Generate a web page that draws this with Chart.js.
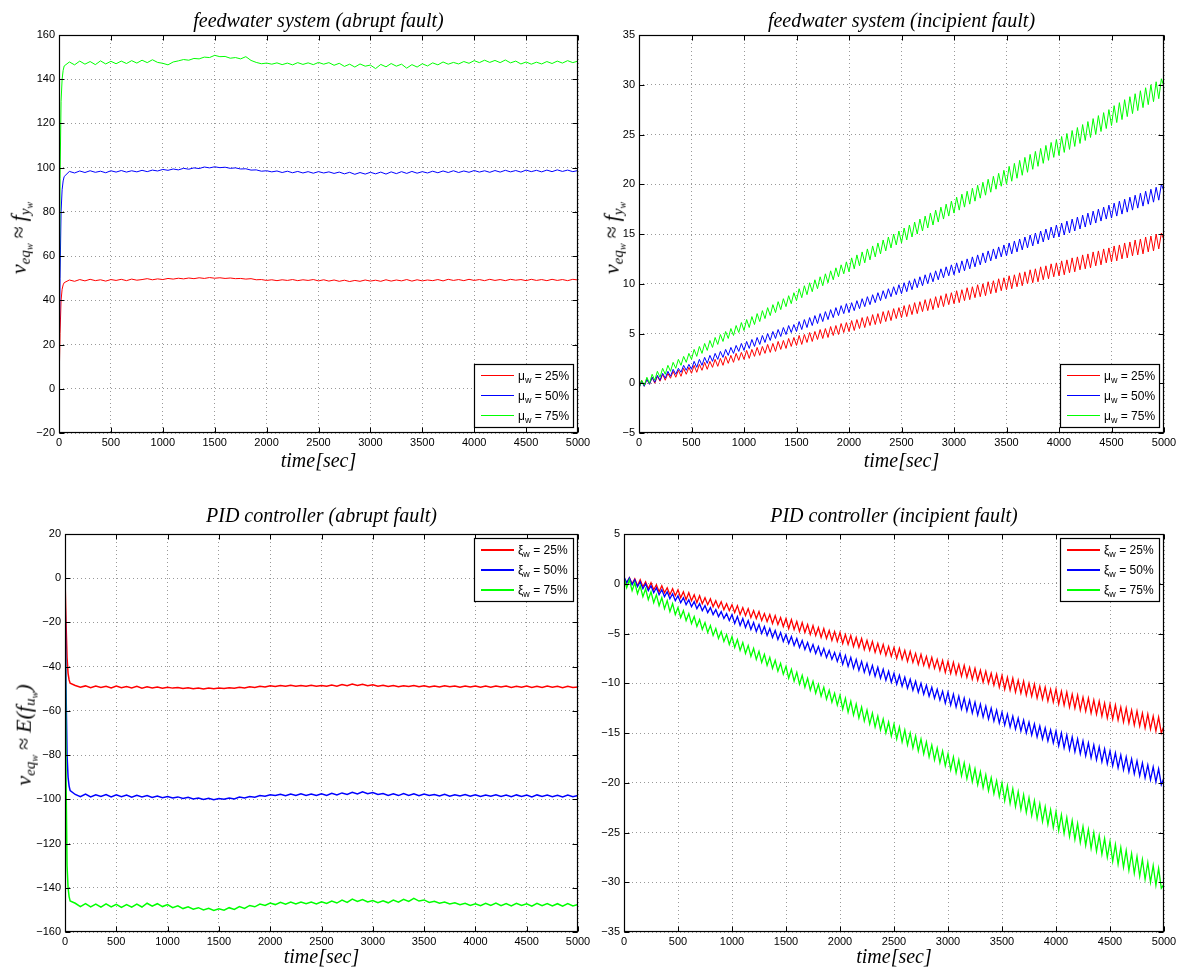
<!DOCTYPE html>
<html><head><meta charset="utf-8">
<script src="https://cdn.jsdelivr.net/npm/chart.js@4.4.1/dist/chart.umd.min.js"></script>
<style>
html,body{margin:0;padding:0;background:#fff;}
#wrap{position:relative;width:1184px;height:972px;overflow:hidden;background:#fff;}
canvas{position:absolute;}
.ylab{position:absolute;white-space:nowrap;font:italic 22px 'Liberation Serif',serif;color:#000;transform:translate(-50%,-50%) rotate(-90deg);line-height:1;}
.ylab sub{font-size:68%;vertical-align:-0.3em;line-height:0;}
.ylab .op{font-style:normal;margin:0 5px;}
</style></head>
<body><div id="wrap">
<canvas id="c1" width="592" height="486" style="left:0;top:0"></canvas>
<canvas id="c2" width="592" height="486" style="left:592px;top:0"></canvas>
<canvas id="c3" width="592" height="486" style="left:0;top:486px"></canvas>
<canvas id="c4" width="592" height="486" style="left:592px;top:486px"></canvas>
<div class="ylab" style="left:19px;top:238px">ν<sub>eq<sub>w</sub></sub><span class="op">≈</span>f<sub>y<sub>w</sub></sub></div>
<div class="ylab" style="left:612px;top:238px">ν<sub>eq<sub>w</sub></sub><span class="op">≈</span>f<sub>y<sub>w</sub></sub></div>
<div class="ylab" style="left:24px;top:735px">ν<sub>eq<sub>w</sub></sub><span class="op">≈</span>E(f<sub>u<sub>w</sub></sub>)</div>
</div>
<script>
// ---------------- DATA ----------------
const TIME_ABRUPT = [0,10,20,30,40,50,100,150,200,250,300,350,400,450,500,550,600,650,700,750,800,850,900,950,1000,1050,1100,1150,1200,1250,1300,1350,1400,1450,1500,1550,1600,1650,1700,1750,1800,1850,1900,1950,2000,2050,2100,2150,2200,2250,2300,2350,2400,2450,2500,2550,2600,2650,2700,2750,2800,2850,2900,2950,3000,3050,3100,3150,3200,3250,3300,3350,3400,3450,3500,3550,3600,3650,3700,3750,3800,3850,3900,3950,4000,4050,4100,4150,4200,4250,4300,4350,4400,4450,4500,4550,4600,4650,4700,4750,4800,4850,4900,4950,5000];
const TIME_INCIPIENT = [0,25,50,75,100,125,150,175,200,225,250,275,300,325,350,375,400,425,450,475,
500,525,550,575,600,625,650,675,700,725,750,775,800,825,850,875,900,925,950,975,
1000,1025,1050,1075,1100,1125,1150,1175,1200,1225,1250,1275,1300,1325,1350,1375,1400,1425,1450,1475,
1500,1525,1550,1575,1600,1625,1650,1675,1700,1725,1750,1775,1800,1825,1850,1875,1900,1925,1950,1975,
2000,2025,2050,2075,2100,2125,2150,2175,2200,2225,2250,2275,2300,2325,2350,2375,2400,2425,2450,2475,
2500,2525,2550,2575,2600,2625,2650,2675,2700,2725,2750,2775,2800,2825,2850,2875,2900,2925,2950,2975,
3000,3025,3050,3075,3100,3125,3150,3175,3200,3225,3250,3275,3300,3325,3350,3375,3400,3425,3450,3475,
3500,3525,3550,3575,3600,3625,3650,3675,3700,3725,3750,3775,3800,3825,3850,3875,3900,3925,3950,3975,
4000,4025,4050,4075,4100,4125,4150,4175,4200,4225,4250,4275,4300,4325,4350,4375,4400,4425,4450,4475,
4500,4525,4550,4575,4600,4625,4650,4675,4700,4725,4750,4775,4800,4825,4850,4875,4900,4925,4950,4975,
5000];

const LEGEND_PCT = ['25%','50%','75%'];
const TITLES = ['feedwater system (abrupt fault)','feedwater system (incipient fault)','PID controller (abrupt fault)','PID controller (incipient fault)'];
const X_TITLE = 'time[sec]';

// feedwater system, abrupt fault
const FW_ABRUPT_25 = [0,25,40,45,47,48,
49.2,48.6,49.4,48.8,49.5,48.9,49.3,48.7,49.4,49.0,
49.5,48.9,49.6,49.1,49.4,49.8,49.3,49.7,49.4,49.9,
49.6,50.0,49.7,50.1,49.8,50.2,49.9,50.3,50.0,50.2,
49.9,50.1,49.8,49.9,49.6,49.8,49.3,49.4,49.0,49.3,
48.9,49.3,49.0,49.4,48.9,49.3,49.0,49.4,48.8,49.3,
48.7,49.2,48.6,49.1,48.5,49.0,48.6,49.2,48.7,49.1,
48.6,49.3,48.7,49.2,48.8,49.4,48.7,49.3,48.8,49.2,
48.9,49.4,48.8,49.5,49.0,49.4,48.9,49.5,49.0,49.4,
48.9,49.5,49.0,49.4,48.9,49.5,49.1,49.4,48.9,49.5,
49.0,49.4,48.9,49.5,49.0,49.4,48.9,49.5,
49.2];
const FW_ABRUPT_50 = [0,50,80,90,94,96,
98.3,97.6,98.5,97.8,98.6,97.9,98.4,97.7,98.6,98.0,
98.7,98.0,98.6,98.1,98.8,98.2,98.9,98.5,99.2,98.8,
99.4,99.0,99.7,99.3,99.9,99.6,100.3,99.9,100.4,100.0,
100.2,99.7,99.9,99.4,99.5,98.9,99.0,98.4,98.6,98.1,
98.5,97.8,98.4,97.7,98.3,97.6,98.2,97.5,98.2,97.6,
98.1,97.4,98.0,97.2,97.9,97.0,97.8,97.1,97.9,97.2,
98.0,97.1,98.1,97.3,98.2,97.4,98.3,97.5,98.2,97.6,
98.4,97.7,98.5,97.8,98.6,97.8,98.5,97.9,98.7,98.0,
98.6,97.9,98.7,98.0,98.8,98.1,98.7,98.0,98.9,98.2,
98.8,98.1,98.9,98.2,99.0,98.3,98.9,98.2,
98.7];
const FW_ABRUPT_75 = [0,95,130,140,144,146,
147.8,146.5,148.2,146.8,148.0,146.6,148.3,146.9,148.1,147.0,
148.2,147.1,148.4,147.3,148.6,147.5,148.8,147.6,147.2,146.5,
147.8,148.3,148.9,148.6,149.4,149.2,150.0,149.8,150.8,150.2,
150.3,149.5,149.8,149.2,150.2,148.5,147.6,147.0,147.3,146.8,
147.4,146.6,147.3,146.5,147.5,146.7,147.4,146.6,147.6,146.8,
147.5,146.3,147.2,145.8,146.8,145.5,146.9,145.9,146.4,144.8,
146.7,145.6,147.1,145.9,146.8,145.0,146.6,145.5,147.0,146.0,
147.4,146.5,147.8,146.8,147.6,146.9,148.0,147.2,148.4,147.5,
148.6,147.6,148.5,147.5,148.7,147.4,148.2,146.9,147.8,146.8,
147.7,146.9,148.0,147.1,148.2,147.3,148.4,147.5,
148.2];

// feedwater system, incipient fault (every 25 s)
const FW_INCIP_25 = [
-0.4,0.3,-0.3,0.4,-0.1,0.6,0.0,0.7,0.2,0.9,0.3,1.0,0.5,1.2,0.6,1.3,0.7,1.5,0.9,1.6,
1.0,1.8,1.1,1.9,1.3,2.1,1.4,2.2,1.6,2.4,1.7,2.5,1.8,2.7,2.0,2.8,2.1,3.0,2.3,3.1,
2.4,3.3,2.5,3.4,2.7,3.6,2.8,3.7,3.0,3.9,3.1,4.0,3.2,4.2,3.4,4.3,3.5,4.5,3.7,4.6,
3.8,4.8,3.9,4.9,4.1,5.1,4.2,5.2,4.4,5.4,4.5,5.5,4.6,5.7,4.8,5.8,4.9,6.0,5.1,6.1,
5.2,6.3,5.3,6.4,5.5,6.6,5.6,6.7,5.8,6.9,5.9,7.0,6.0,7.2,6.2,7.3,6.3,7.5,6.5,7.6,
6.6,7.8,6.7,7.9,6.9,8.1,7.0,8.2,7.2,8.4,7.3,8.5,7.4,8.7,7.6,8.8,7.7,9.0,7.9,9.1,
8.0,9.3,8.1,9.4,8.3,9.6,8.4,9.7,8.6,9.9,8.7,10.0,8.8,10.2,9.0,10.3,9.1,10.5,9.3,10.6,
9.4,10.8,9.5,10.9,9.7,11.1,9.8,11.2,10.0,11.4,10.1,11.5,10.2,11.7,10.4,11.8,10.5,12.0,10.7,12.1,
10.8,12.3,10.9,12.4,11.1,12.6,11.2,12.7,11.4,12.9,11.5,13.0,11.6,13.2,11.8,13.3,11.9,13.5,12.1,13.6,
12.2,13.8,12.3,13.9,12.5,14.1,12.6,14.2,12.8,14.4,12.9,14.5,13.0,14.7,13.2,14.8,13.3,15.0,13.5,15.1,
14.4];
const FW_INCIP_50 = [
-0.5,0.2,-0.3,0.4,-0.1,0.6,0.1,0.8,0.3,1.0,0.5,1.2,0.7,1.4,0.9,1.5,1.1,1.8,1.3,1.9,
1.4,2.2,1.6,2.4,1.8,2.6,2.0,2.8,2.2,3.0,2.4,3.2,2.6,3.4,2.8,3.6,3.0,3.8,3.2,4.0,
3.3,4.2,3.5,4.4,3.7,4.6,3.9,4.8,4.1,5.0,4.3,5.2,4.5,5.4,4.7,5.6,4.9,5.8,5.1,5.9,
5.2,6.2,5.4,6.4,5.6,6.6,5.8,6.8,6.0,7.0,6.2,7.2,6.4,7.4,6.6,7.6,6.8,7.8,7.0,8.0,
7.1,8.1,7.3,8.3,7.5,8.5,7.7,8.7,7.9,8.9,8.1,9.1,8.3,9.3,8.5,9.5,8.7,9.7,8.9,9.9,
9.0,10.1,9.2,10.3,9.4,10.5,9.6,10.7,9.8,10.9,10.0,11.1,10.2,11.3,10.4,11.5,10.6,11.7,10.8,11.9,
10.9,12.1,11.1,12.3,11.3,12.5,11.5,12.7,11.7,12.9,11.9,13.1,12.1,13.3,12.3,13.5,12.5,13.7,12.7,13.9,
12.8,14.1,13.0,14.3,13.2,14.5,13.4,14.7,13.6,14.9,13.8,15.1,14.0,15.3,14.2,15.5,14.4,15.7,14.6,15.9,
14.7,16.1,14.9,16.3,15.1,16.5,15.3,16.7,15.5,16.9,15.7,17.1,15.9,17.3,16.1,17.5,16.3,17.7,16.5,17.9,
16.6,18.1,16.8,18.3,17.0,18.5,17.2,18.7,17.4,18.9,17.6,19.1,17.8,19.3,18.0,19.5,18.2,19.7,18.4,20.0,
19.3];
const FW_INCIP_75 = [
-0.5,0.3,-0.2,0.6,0.0,0.9,0.3,1.2,0.6,1.5,0.9,1.8,1.2,2.1,1.5,2.4,1.8,2.7,2.1,3.0,
2.4,3.4,2.7,3.7,3.0,4.0,3.3,4.3,3.6,4.6,3.9,4.9,4.2,5.2,4.5,5.5,4.8,5.8,5.1,6.1,
5.3,6.4,5.6,6.7,5.9,7.0,6.2,7.3,6.5,7.6,6.8,7.9,7.1,8.2,7.4,8.5,7.7,8.8,8.0,9.1,
8.3,9.5,8.6,9.8,8.9,10.1,9.2,10.4,9.5,10.7,9.8,11.0,10.1,11.3,10.4,11.6,10.7,11.9,11.0,12.2,
11.2,12.6,11.5,12.9,11.8,13.2,12.1,13.5,12.4,13.8,12.7,14.1,13.0,14.4,13.3,14.7,13.6,15.0,13.9,15.3,
14.1,15.6,14.4,15.9,14.7,16.2,15.0,16.5,15.3,16.8,15.6,17.1,15.9,17.4,16.2,17.7,16.5,18.0,16.8,18.3,
17.1,18.7,17.4,19.0,17.7,19.3,18.0,19.6,18.3,19.9,18.6,20.2,18.9,20.5,19.2,20.8,19.5,21.1,19.8,21.4,
20.0,21.8,20.3,22.1,20.6,22.4,20.9,22.7,21.2,23.0,21.5,23.3,21.8,23.6,22.1,23.9,22.4,24.2,22.7,24.5,
22.9,24.8,23.2,25.1,23.5,25.4,23.8,25.7,24.1,26.0,24.4,26.3,24.7,26.6,25.0,26.9,25.3,27.2,25.6,27.5,
25.9,27.9,26.2,28.2,26.5,28.5,26.8,28.8,27.1,29.1,27.4,29.4,27.7,29.7,28.0,30.0,28.3,30.3,28.6,30.6,
29.8];

// PID controller, abrupt fault
const PID_ABRUPT_25 = [0,-20,-36,-43,-46,-47.5,
-48.5,-49.3,-48.7,-49.5,-48.8,-49.4,-48.9,-49.6,-48.8,-49.5,
-49.0,-49.6,-48.9,-49.7,-49.1,-49.6,-49.2,-49.8,-49.3,-49.7,
-49.4,-49.9,-49.5,-50.0,-49.6,-50.1,-49.6,-50.0,-49.7,-49.9,
-49.5,-49.8,-49.3,-49.6,-49.1,-49.4,-48.9,-49.2,-48.6,-49.0,
-48.5,-48.9,-48.4,-48.8,-48.5,-48.9,-48.4,-48.8,-48.5,-48.9,
-48.3,-48.8,-48.1,-48.6,-47.9,-48.5,-48.0,-48.6,-48.2,-48.8,
-48.4,-49.0,-48.5,-49.1,-48.6,-49.0,-48.5,-49.1,-48.6,-49.2,
-48.7,-49.2,-48.6,-49.1,-48.7,-49.3,-48.8,-49.2,-48.7,-49.3,
-48.8,-49.3,-48.7,-49.2,-48.8,-49.4,-48.9,-49.3,-48.8,-49.4,
-48.9,-49.4,-48.8,-49.3,-48.9,-49.5,-48.9,-49.4,
-49.2];
const PID_ABRUPT_50 = [0,-50,-80,-90,-94,-96,
-97.8,-98.8,-97.6,-98.9,-97.9,-98.7,-97.8,-98.9,-98.0,-98.8,
-98.1,-99.0,-98.2,-98.9,-98.3,-99.2,-98.5,-99.3,-98.7,-99.4,
-98.9,-99.6,-99.1,-99.8,-99.4,-100.1,-99.5,-100.2,-99.6,-100.0,
-99.4,-99.8,-99.0,-99.4,-98.7,-99.0,-98.3,-98.6,-97.9,-98.3,
-97.7,-98.4,-97.6,-98.3,-97.5,-98.2,-97.6,-98.3,-97.5,-98.2,
-97.3,-98.0,-97.1,-97.8,-96.8,-97.6,-96.6,-97.5,-96.9,-97.8,
-97.4,-98.2,-97.5,-98.3,-97.4,-98.2,-97.5,-98.4,-97.6,-98.3,
-97.8,-98.5,-97.7,-98.6,-97.9,-98.5,-97.8,-98.6,-97.9,-98.7,
-98.0,-98.6,-97.9,-98.7,-98.1,-98.8,-98.0,-98.7,-98.1,-98.9,
-98.0,-98.7,-98.1,-98.8,-98.2,-98.9,-98.1,-98.8,
-98.3];
const PID_ABRUPT_75 = [0,-90,-130,-140,-144,-146,
-147.0,-148.5,-147.2,-148.6,-147.4,-148.8,-147.3,-148.7,-147.5,-148.9,
-147.6,-148.8,-147.4,-148.7,-147.0,-148.3,-147.2,-148.5,-147.6,-149.0,
-148.2,-149.4,-148.6,-149.7,-149.0,-150.0,-149.3,-150.3,-149.5,-150.1,
-149.0,-149.8,-148.5,-149.3,-148.0,-148.6,-147.4,-148.0,-146.9,-147.6,
-146.6,-147.4,-146.5,-147.3,-146.4,-147.2,-146.5,-147.3,-146.3,-147.1,
-146.0,-146.9,-145.6,-146.6,-145.1,-146.2,-145.3,-146.4,-145.8,-146.7,
-145.9,-146.8,-145.6,-146.5,-145.2,-146.2,-144.8,-146.0,-145.5,-146.6,
-146.1,-147.0,-146.4,-147.3,-146.8,-147.7,-147.0,-148.0,-147.2,-148.1,
-147.0,-148.0,-146.9,-148.1,-147.1,-148.2,-147.0,-148.0,-147.2,-148.3,
-147.0,-148.1,-147.1,-148.2,-147.2,-148.3,-147.1,-148.2,
-147.6];

// PID controller, incipient fault (every 25 s)
const PID_INCIP_25 = [
0.6,0.1,0.6,0.0,0.5,-0.2,0.4,-0.3,0.2,-0.5,0.1,-0.6,-0.1,-0.8,-0.2,-0.9,-0.4,-1.1,-0.5,-1.2,
-0.6,-1.4,-0.8,-1.6,-0.9,-1.7,-1.1,-1.9,-1.2,-2.0,-1.4,-2.1,-1.5,-2.3,-1.7,-2.4,-1.8,-2.6,-2.0,-2.7,
-2.1,-2.9,-2.2,-3.1,-2.4,-3.2,-2.5,-3.4,-2.7,-3.5,-2.8,-3.7,-3.0,-3.8,-3.1,-4.0,-3.2,-4.1,-3.4,-4.3,
-3.5,-4.5,-3.6,-4.6,-3.8,-4.8,-3.9,-4.9,-4.1,-5.1,-4.2,-5.2,-4.4,-5.4,-4.5,-5.5,-4.7,-5.7,-4.8,-5.8,
-4.9,-6.0,-5.1,-6.1,-5.2,-6.3,-5.4,-6.4,-5.5,-6.6,-5.7,-6.7,-5.8,-6.9,-6.0,-7.0,-6.1,-7.2,-6.3,-7.3,
-6.4,-7.5,-6.5,-7.6,-6.7,-7.8,-6.8,-7.9,-7.0,-8.1,-7.1,-8.2,-7.3,-8.4,-7.4,-8.5,-7.6,-8.7,-7.7,-8.9,
-7.8,-9.0,-7.9,-9.1,-8.1,-9.3,-8.2,-9.4,-8.4,-9.6,-8.5,-9.7,-8.7,-9.9,-8.8,-10.0,-9.0,-10.2,-9.1,-10.4,
-9.2,-10.6,-9.4,-10.7,-9.5,-10.9,-9.7,-11.0,-9.8,-11.2,-10.0,-11.3,-10.1,-11.5,-10.3,-11.6,-10.4,-11.8,-10.6,-11.9,
-10.6,-12.1,-10.8,-12.2,-10.9,-12.4,-11.1,-12.5,-11.2,-12.7,-11.4,-12.8,-11.5,-13.0,-11.7,-13.1,-11.8,-13.3,-12.0,-13.5,
-12.1,-13.6,-12.2,-13.7,-12.4,-13.9,-12.5,-14.0,-12.7,-14.2,-12.8,-14.3,-13.0,-14.5,-13.1,-14.6,-13.3,-14.8,-13.4,-15.0,
-14.3];
const PID_INCIP_50 = [
0.7,0.1,0.6,-0.1,0.4,-0.3,0.2,-0.5,0.0,-0.7,-0.2,-0.9,-0.4,-1.1,-0.6,-1.3,-0.8,-1.5,-1.0,-1.7,
-1.2,-1.9,-1.4,-2.1,-1.6,-2.3,-1.8,-2.5,-2.0,-2.7,-2.2,-2.9,-2.4,-3.1,-2.6,-3.3,-2.8,-3.5,-3.0,-3.7,
-3.1,-4.0,-3.3,-4.2,-3.5,-4.4,-3.7,-4.6,-3.9,-4.8,-4.1,-5.0,-4.3,-5.2,-4.5,-5.4,-4.7,-5.6,-4.9,-5.8,
-5.1,-6.0,-5.3,-6.2,-5.5,-6.4,-5.7,-6.6,-5.9,-6.8,-6.1,-7.0,-6.3,-7.2,-6.5,-7.4,-6.7,-7.6,-6.9,-7.8,
-7.0,-8.1,-7.2,-8.3,-7.4,-8.5,-7.6,-8.7,-7.8,-8.9,-8.0,-9.1,-8.2,-9.3,-8.4,-9.5,-8.6,-9.7,-8.8,-9.9,
-9.0,-10.1,-9.2,-10.3,-9.4,-10.5,-9.6,-10.7,-9.8,-10.9,-10.0,-11.1,-10.2,-11.3,-10.4,-11.5,-10.6,-11.7,-10.8,-12.0,
-10.9,-12.2,-11.1,-12.4,-11.3,-12.6,-11.5,-12.8,-11.7,-13.0,-11.9,-13.2,-12.1,-13.4,-12.3,-13.6,-12.5,-13.8,-12.7,-14.0,
-12.9,-14.2,-13.1,-14.4,-13.3,-14.6,-13.5,-14.8,-13.7,-15.0,-13.9,-15.2,-14.1,-15.4,-14.3,-15.6,-14.5,-15.8,-14.7,-16.0,
-14.8,-16.3,-15.0,-16.5,-15.2,-16.7,-15.4,-16.9,-15.6,-17.1,-15.8,-17.3,-16.0,-17.5,-16.2,-17.7,-16.4,-17.9,-16.6,-18.1,
-16.8,-18.3,-17.0,-18.5,-17.2,-18.7,-17.4,-18.9,-17.6,-19.1,-17.8,-19.3,-18.0,-19.5,-18.2,-19.7,-18.4,-19.9,-18.6,-20.2,
-19.5];
const PID_INCIP_75 = [
0.6,-0.4,0.4,-0.7,0.1,-1.0,-0.2,-1.3,-0.5,-1.6,-0.8,-1.9,-1.1,-2.2,-1.4,-2.5,-1.7,-2.8,-2.0,-3.1,
-2.4,-3.4,-2.7,-3.7,-3.0,-4.0,-3.3,-4.3,-3.6,-4.6,-3.9,-4.9,-4.2,-5.2,-4.5,-5.5,-4.8,-5.8,-5.1,-6.1,
-5.3,-6.4,-5.6,-6.7,-5.9,-7.0,-6.2,-7.3,-6.5,-7.6,-6.8,-7.9,-7.1,-8.2,-7.4,-8.5,-7.7,-8.8,-8.0,-9.1,
-8.3,-9.5,-8.6,-9.8,-8.9,-10.1,-9.2,-10.4,-9.5,-10.7,-9.8,-11.0,-10.1,-11.3,-10.4,-11.6,-10.7,-11.9,-11.0,-12.2,
-11.2,-12.6,-11.5,-12.9,-11.8,-13.2,-12.1,-13.5,-12.4,-13.8,-12.7,-14.1,-13.0,-14.4,-13.3,-14.7,-13.6,-15.0,-13.9,-15.3,
-14.1,-15.6,-14.4,-15.9,-14.7,-16.2,-15.0,-16.5,-15.3,-16.8,-15.6,-17.1,-15.9,-17.4,-16.2,-17.7,-16.5,-18.0,-16.8,-18.3,
-17.1,-18.7,-17.4,-19.0,-17.7,-19.3,-18.0,-19.6,-18.3,-19.9,-18.6,-20.2,-18.9,-20.5,-19.2,-20.8,-19.5,-21.1,-19.8,-21.4,
-20.0,-21.8,-20.3,-22.1,-20.6,-22.4,-20.9,-22.7,-21.2,-23.0,-21.5,-23.3,-21.8,-23.6,-22.1,-23.9,-22.4,-24.2,-22.7,-24.5,
-22.9,-24.8,-23.2,-25.1,-23.5,-25.4,-23.8,-25.7,-24.1,-26.0,-24.4,-26.3,-24.7,-26.6,-25.0,-26.9,-25.3,-27.2,-25.6,-27.5,
-25.9,-27.9,-26.2,-28.2,-26.5,-28.5,-26.8,-28.8,-27.1,-29.1,-27.4,-29.4,-27.7,-29.7,-28.0,-30.0,-28.3,-30.3,-28.6,-30.6,
-30.2];

// ---------------- STYLE / LAYOUT ----------------
const COLORS = ['#ff0000','#0000ff','#00ff00'];
const W = 592, H = 486;
const PANELS = [
  {id:'c1', title:TITLES[0], time:TIME_ABRUPT, series:[FW_ABRUPT_25,FW_ABRUPT_50,FW_ABRUPT_75], sym:'μ', y:[-20,160,20], plot:{left:59,top:35,right:578,bottom:433}, legend:'br', titleTop:10, xTitleBottom:12, lw:1},
  {id:'c2', title:TITLES[1], time:TIME_INCIPIENT, series:[FW_INCIP_25,FW_INCIP_50,FW_INCIP_75], sym:'μ', y:[-5,35,5], plot:{left:47,top:35,right:572,bottom:433}, legend:'br', titleTop:10, xTitleBottom:12, lw:1},
  {id:'c3', title:TITLES[2], time:TIME_ABRUPT, series:[PID_ABRUPT_25,PID_ABRUPT_50,PID_ABRUPT_75], sym:'ξ', y:[-160,20,20], plot:{left:65,top:48,right:578,bottom:446}, legend:'tr', titleTop:19, xTitleBottom:2, lw:1.5},
  {id:'c4', title:TITLES[3], time:TIME_INCIPIENT, series:[PID_INCIP_25,PID_INCIP_50,PID_INCIP_75], sym:'ξ', y:[-35,5,5], plot:{left:32,top:48,right:572,bottom:446}, legend:'tr', titleTop:19, xTitleBottom:2, lw:1.3}
];

const TICK_FONT = {family:"'Liberation Sans', Arial, sans-serif", size:11};
const SERIF_IT = {family:"'Liberation Serif', 'Times New Roman', serif", style:'italic', weight:'normal', size:20, lineHeight:1.2};

const frameLegendPlugin = {
  id:'frameLegend',
  afterDatasetsDraw(chart){
    const o = chart.options.plugins.frameLegend || {};
    const {ctx, chartArea:a, scales} = chart;
    const xs = scales.x, ys = scales.y;
    const L = Math.round(a.left)+0.5, R = Math.round(a.right)-0.5, T = Math.round(a.top)+0.5, B = Math.round(a.bottom)-0.5;
    ctx.save();
    ctx.strokeStyle = '#000';
    ctx.lineWidth = 1;
    ctx.setLineDash([]);
    ctx.beginPath();
    const TL = 5;
    xs.ticks.forEach(t=>{
      const px = Math.round(xs.getPixelForValue(t.value))+0.5;
      ctx.moveTo(px,B); ctx.lineTo(px,B-TL);
      ctx.moveTo(px,T); ctx.lineTo(px,T+TL);
    });
    ys.ticks.forEach(t=>{
      const py = Math.round(ys.getPixelForValue(t.value))+0.5;
      ctx.moveTo(L,py); ctx.lineTo(L+TL,py);
      ctx.moveTo(R,py); ctx.lineTo(R-TL,py);
    });
    ctx.stroke();
    ctx.lineWidth = 1.2;
    ctx.strokeRect(L,T,R-L,B-T);
    // legend
    const w = 99, h = 63;
    const x = Math.round(a.right) - 5 - w;
    const y = o.pos === 'br' ? Math.round(a.bottom) - 6 - h : Math.round(a.top) + 4;
    ctx.fillStyle = '#fff';
    ctx.fillRect(x, y, w, h);
    ctx.lineWidth = 1.2;
    ctx.strokeStyle = '#000';
    ctx.strokeRect(x+0.5, y+0.5, w, h);
    chart.data.datasets.forEach((ds,i)=>{
      const cy = Math.round(y + 11 + i*20);
      ctx.fillStyle = COLORS[i];
      ctx.fillRect(x+7, cy, 33, o.lw > 1 ? 2 : 1);
      const parts = ds.label.split('_w');
      ctx.fillStyle = '#000';
      ctx.textBaseline = 'alphabetic';
      ctx.textAlign = 'left';
      ctx.font = "12px 'Liberation Sans', Arial, sans-serif";
      let tx = x + 44;
      const base = cy + 4.5;
      ctx.fillText(parts[0], tx, base);
      tx += ctx.measureText(parts[0]).width;
      ctx.font = "9px 'Liberation Sans', Arial, sans-serif";
      ctx.fillText('w', tx, base + 3);
      tx += ctx.measureText('w').width;
      ctx.font = "12px 'Liberation Sans', Arial, sans-serif";
      ctx.fillText(parts[1], tx, base);
    });
    ctx.restore();
  }
};

const minus = v => String(v).replace('-', '\u2212');

PANELS.forEach(p=>{
  const el = document.getElementById(p.id);
  const datasets = p.series.map((s,i)=>({
    label: p.sym + '_w = ' + LEGEND_PCT[i],
    data: p.time.map((t,k)=>({x:t, y:s[k]})),
    borderColor: COLORS[i],
    backgroundColor: COLORS[i],
    borderWidth: p.lw,
    pointRadius: 0,
    tension: 0,
    fill: false,
    order: 3 - i
  }));
  const titleLH = SERIF_IT.size * SERIF_IT.lineHeight;
  new Chart(el, {
    type:'line',
    data:{datasets},
    options:{
      responsive:false, animation:false, devicePixelRatio:1,
      layout:{padding:{left:0, right:W - p.plot.right, top:0, bottom:0}},
      plugins:{
        legend:{display:false},
        tooltip:{enabled:false},
        title:{display:true, text:p.title, fullSize:false, color:'#000', font:SERIF_IT,
               padding:{top:p.titleTop, bottom:p.plot.top - titleLH - p.titleTop}},
        frameLegend:{pos:p.legend, lw:p.lw}
      },
      scales:{
        x:{
          type:'linear', min:0, max:5000,
          afterFit(s){ s.height = H - p.plot.bottom; s.paddingLeft = 0; s.paddingRight = 0; },
          ticks:{stepSize:500, autoSkip:false, maxRotation:0, minRotation:0, padding:3, color:'#000', font:TICK_FONT, callback:minus},
          grid:{color:'rgba(0,0,0,0.4)', lineWidth:1, drawTicks:false},
          border:{display:false, dash:[1,3]},
          title:{display:true, text:X_TITLE, color:'#000', font:SERIF_IT, padding:{top:0, bottom:p.xTitleBottom}}
        },
        y:{
          type:'linear', min:p.y[0], max:p.y[1],
          afterFit(s){ s.width = p.plot.left; s.paddingTop = 0; s.paddingBottom = 0; },
          ticks:{stepSize:p.y[2], autoSkip:false, padding:4, color:'#000', font:TICK_FONT, callback:minus},
          grid:{color:'rgba(0,0,0,0.4)', lineWidth:1, drawTicks:false},
          border:{display:false, dash:[1,3]}
        }
      }
    },
    plugins:[frameLegendPlugin]
  });
});
</script>
</body></html>
